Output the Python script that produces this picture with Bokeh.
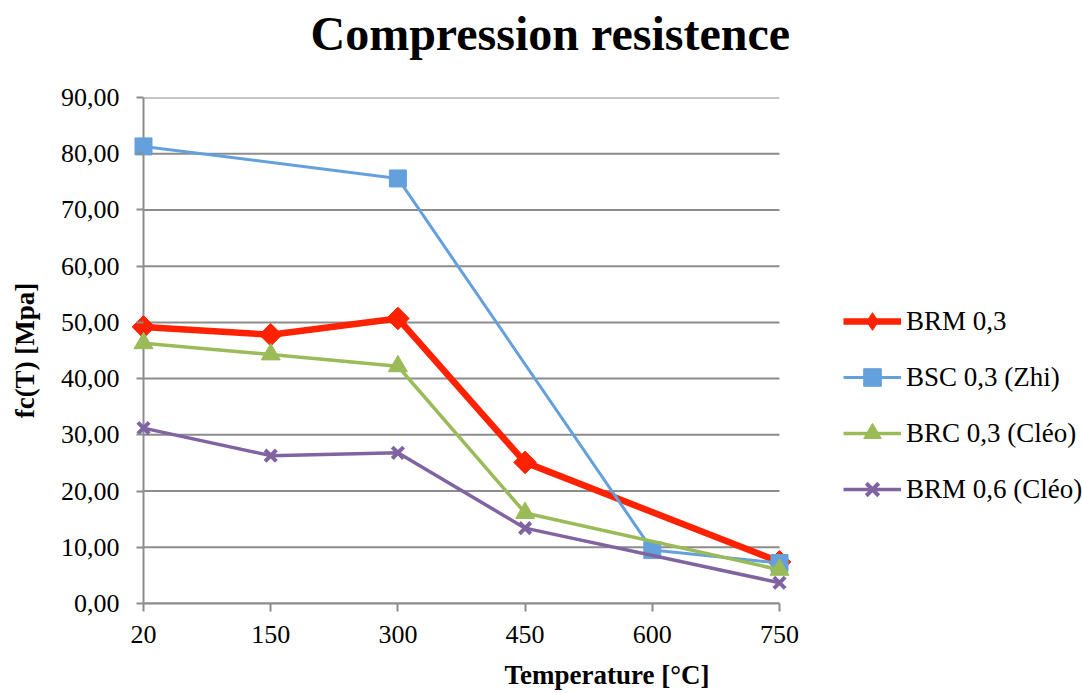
import math
from bokeh.plotting import figure
from bokeh.models import (Range1d, FixedTicker, Legend, LegendItem, Title)
from bokeh.embed import file_html
from bokeh.resources import INLINE

# ---- data ----
temperatures = ["20", "150", "300", "450", "600", "750"]
y_ticks = [0, 10, 20, 30, 40, 50, 60, 70, 80, 90]
y_tick_labels = ["0,00", "10,00", "20,00", "30,00", "40,00", "50,00",
                 "60,00", "70,00", "80,00", "90,00"]

brm03_temps = ["20", "150", "300", "450", "750"]
brm03_vals = [49.2, 47.8, 50.7, 25.1, 7.4]

bsc03_temps = ["20", "300", "600", "750"]
bsc03_vals = [81.3, 75.6, 9.5, 7.2]

brc03_temps = ["20", "150", "300", "450", "750"]
brc03_vals = [46.3, 44.3, 42.2, 16.1, 6.0]

brm06_temps = ["20", "150", "300", "450", "750"]
brm06_vals = [31.2, 26.3, 26.8, 13.4, 3.7]

FONT = "Liberation Serif"
GRID = "#8c8c8c"

n_last = len(temperatures) - 1
# layout: categories span 636 px; frame extends 12 px left and to the window edge on the right
unit = 636 / n_last
x_start = -12 / unit
x_end = n_last + (1082 - 779) / unit


def xpos(ts):
    return [temperatures.index(t) for t in ts]


p = figure(width=1082, height=693, output_backend="svg", toolbar_location=None,
           x_range=Range1d(x_start, x_end), y_range=Range1d(0, 90),
           min_border_left=131, min_border_right=0, min_border_top=97,
           min_border_bottom=90)
p.outline_line_color = None
p.background_fill_color = "white"
p.border_fill_color = "white"

# axes
p.xaxis.ticker = FixedTicker(ticks=list(range(len(temperatures))))
p.xaxis.major_label_overrides = {i: t for i, t in enumerate(temperatures)}
p.xaxis.bounds = (0, n_last)
p.yaxis.ticker = FixedTicker(ticks=y_ticks)
p.yaxis.major_label_overrides = {t: l for t, l in zip(y_ticks, y_tick_labels)}
for ax in (p.xaxis, p.yaxis):
    ax.axis_line_color = GRID
    ax.axis_line_width = 2
    ax.major_tick_line_color = GRID
    ax.major_tick_line_width = 2
    ax.major_tick_out = 8
    ax.major_tick_in = 0
    ax.minor_tick_line_color = None
    ax.major_label_text_font = FONT
    ax.major_label_text_font_size = "26px"
    ax.major_label_text_color = "black"
    ax.axis_label_text_font = FONT
    ax.axis_label_text_font_style = "bold"
    ax.axis_label_text_font_size = "27px"
    ax.axis_label_text_color = "black"
# y axis sits 12 px left of the first category: hide its line, draw ticks inward
p.yaxis.axis_line_color = None
p.yaxis.major_tick_in = 12
p.yaxis.major_tick_out = -5
p.xaxis.axis_label = "Temperature [°C]"
p.yaxis.axis_label = "fc(T) [Mpa]"
p.xaxis.major_label_standoff = 14
p.yaxis.major_label_standoff = 12
p.xaxis.axis_label_standoff = 14
p.yaxis.axis_label_standoff = 18

p.xgrid.grid_line_color = None
p.ygrid.grid_line_color = None
# horizontal grid lines spanning the category extent
p.segment(x0=[0] * len(y_ticks), x1=[n_last] * len(y_ticks), y0=y_ticks,
          y1=y_ticks, line_color=GRID, line_width=2)
# vertical axis line at the first category
p.segment(x0=[0], x1=[0], y0=[y_ticks[0]], y1=[y_ticks[-1]],
          line_color=GRID, line_width=2)

# series
series = [
    ("BRM 0,3", brm03_temps, brm03_vals, "#ff2200", 6.5, "diamond", 16),
    ("BSC 0,3 (Zhi)", bsc03_temps, bsc03_vals, "#64a0dc", 3, "square", 17),
    ("BRC 0,3 (Cléo)", brc03_temps, brc03_vals, "#9bbb59", 3.5, "triangle", 19),
    ("BRM 0,6 (Cléo)", brm06_temps, brm06_vals, "#8064a2", 3.5, "x", 16),
]
items = []
for name, ts, vals, col, lw, mk, ms in series:
    xs = xpos(ts)
    r1 = p.line(xs, vals, line_color=col, line_width=lw)
    if mk == "x":
        r2 = p.scatter(xs, vals, marker=mk, size=ms, line_color=col, line_width=4)
        leg = [r1, r2]
    elif mk == "diamond":
        # legend shows a diamond; the plot shows a square turned 45 degrees
        r3 = p.scatter(xs, vals, marker="diamond", size=ms, fill_color=col,
                       line_color=col, line_width=1)
        p.scatter(xs, vals, marker="square", size=ms, angle=math.pi / 4,
                  fill_color=col, line_color=col, line_width=1)
        leg = [r1, r3]
    else:
        r2 = p.scatter(xs, vals, marker=mk, size=ms, fill_color=col,
                       line_color=col, line_width=1)
        leg = [r1, r2]
    items.append(LegendItem(label=name, renderers=leg))

legend = Legend(items=items, location=(712, 92), orientation="vertical",
                label_text_font=FONT, label_text_font_size="27px",
                label_text_color="black", glyph_width=58, glyph_height=44,
                spacing=12, label_standoff=5, padding=0, margin=0,
                border_line_color=None, background_fill_alpha=0)
p.add_layout(legend, "center")

# spacer between frame and title, then the title itself
spacer = Title(text=" ", text_font_size="2px", standoff=28)
p.add_layout(spacer, "above")
title = Title(text="Compression resistence", text_font=FONT,
              text_font_size="48px", text_font_style="bold",
              text_color="black", align="left", offset=179, standoff=8,
              vertical_align="top")
p.add_layout(title, "above")

open("out.html", "w").write(file_html(p, INLINE))
